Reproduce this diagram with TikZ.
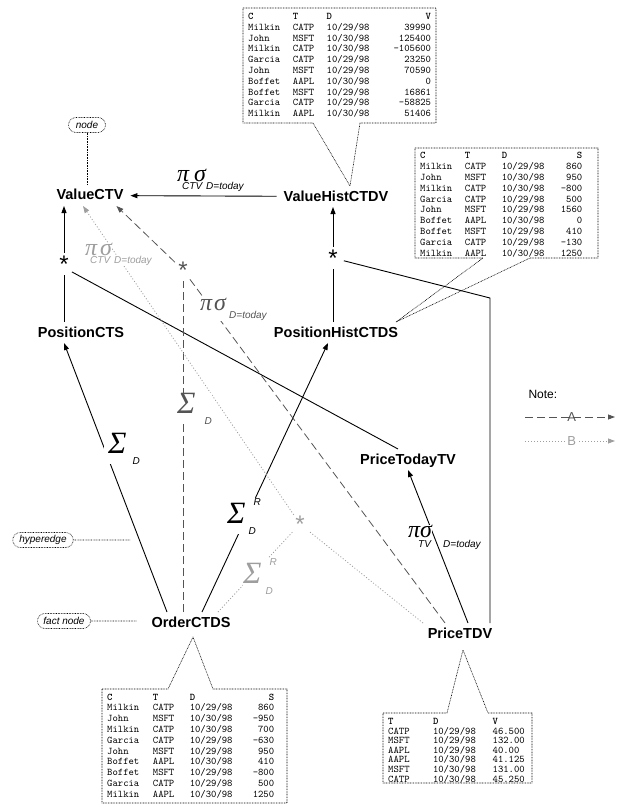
\documentclass[tikz,border=0pt]{standalone}
\usepackage{fontspec}
\setmainfont{Liberation Sans}
\newfontfamily\grkfont{Liberation Serif}
\usetikzlibrary{arrows.meta,shapes.misc}

\definecolor{dashcol}{gray}{0.33}
\definecolor{dotcol}{gray}{0.62}

\newcommand{\symfont}{\grkfont\itshape\fontsize{24}{24}\selectfont}
\newcommand{\sumfont}{\grkfont\itshape\fontsize{31}{31}\selectfont}
\newcommand{\subfont}{\itshape\fontsize{10}{10}\selectfont}
\newcommand{\psdrop}{8pt}
\setlength{\fboxsep}{1pt}

% projection / selection label: [gap] sub under pi, its kern, sub under sigma, its kern
\newcommand{\projsel}[5][2pt]{%
  \makebox[0pt][l]{\kern#3\raisebox{-\psdrop}{\subfont #2}}%
  \makebox[0pt][l]{\kern#5\raisebox{-\psdrop}{\colorbox{white}{\subfont #4}}}%
  {\symfont π\kern#1 σ}}
% aggregation label: sup, sub, kern of sub
\newcommand{\aggr}[3]{%
  {\sumfont Σ}\makebox[0pt][l]{\kern8pt\raisebox{18pt}{\subfont #1}}\kern#3\raisebox{-11pt}{\subfont #2}}
\newcommand{\hubstar}{\raisebox{-5.5pt}{*}}

\tikzset{
  fact/.style={font=\bfseries\fontsize{14.5}{16}\selectfont,inner sep=0pt,outer sep=2pt,text height=13pt,text depth=4pt,anchor=base},
  hub/.style={circle,inner sep=0pt,minimum size=22pt,font=\fontsize{24}{24}\selectfont},
  conn/.style={line width=0.9pt},
  dashA/.style={line width=0.8pt,draw=dashcol,dash pattern=on 8pt off 4pt},
  dotB/.style={line width=0.8pt,draw=dotcol,dash pattern=on 1pt off 2pt},
  lbl/.style={inner sep=0pt,anchor=base west},
  note/.style={rounded rectangle,draw,line width=0.6pt,dash pattern=on 0.7pt off 0.9pt,font=\itshape\fontsize{10}{12}\selectfont,inner xsep=5pt,inner ysep=2pt,minimum height=15pt},
  annot/.style={line width=0.6pt,dash pattern=on 0.7pt off 0.9pt},
  callout/.style={line width=0.6pt,dash pattern=on 0.8pt off 0.8pt},
  tbl/.style={inner sep=0pt,anchor=base west,font=\ttfamily\fontsize{10.2}{10.8}\selectfont}
}

\begin{document}
\begin{tikzpicture}[x=1pt,y=-1pt,>={Triangle[length=7pt,width=5pt]},line join=round]
\useasboundingbox (0,0) rectangle (616,805);

% fact nodes
\node[fact] (vctv) at (90,200) {ValueCTV};
\node[fact] (vh) at (336,201) {ValueHistCTDV};
\node[fact] (pcts) at (81,337) {PositionCTS};
\node[fact] (phc) at (336,337) {PositionHistCTDS};
\node[fact] (ptv) at (408,464) {PriceTodayTV};
\node[fact] (oc) at (191,627) {OrderCTDS};
\node[fact] (pt) at (460,638) {PriceTDV};

% hyperedge hubs
\node[hub] (s1) at (64,264) {\hubstar};
\node[hub,text=dashcol] (s2) at (183,270) {\hubstar};
\node[hub] (s3) at (333,258) {\hubstar};
\node[hub,text=dotcol] (s4) at (300,524) {\hubstar};
\coordinate (bend) at (490,298);

% solid hyperedges
\draw[conn,->,shorten >=5pt,shorten <=5pt] (vh) -- (vctv);
\draw[conn,->] (s1) -- (s1 |- vctv.south);
\draw[conn] (s1) -- (s1 |- pcts.north);
\draw[conn] (s1.south east) -- ([xshift=-10pt]ptv.north);
\draw[conn,->] ([xshift=-24pt]oc.north) -- ([xshift=-17pt]pcts.south);
\draw[conn,->] ([xshift=11pt]oc.north) -- ([xshift=-8pt]phc.south);
\draw[conn] (phc.north -| s3) -- (s3);
\draw[conn,->] (s3) -- (s3 |- vh.south);
\draw[conn] (bend |- pt.north) -- (bend) -- (s3);
\draw[conn,->] ([xshift=8pt]pt.north) -- (ptv.south);

% dashed hyperedge A
\draw[dashA] (s2 |- oc.north) -- (s2);
\draw[dashA,->] (s2) -- ([xshift=-9pt]vctv.south east);
\draw[dashA] ([xshift=-15pt]pt.north) -- (s2);

% dotted hyperedge B
\draw[dotB,->] (s4) -- ([xshift=-7pt]vctv.south);
\draw[dotB] ([xshift=27pt]oc.north) -- (s4);
\draw[dotB] ([xshift=-37pt]pt.north) -- (s4);

% edge labels
\node[lbl] (ps1) at (177,182) {\projsel[5pt]{CTV}{5pt}{D=today}{28pt}};
\node[lbl,text=dashcol,fill=white] (ps2) at (200,310) {\projsel{}{0pt}{D=today}{28pt}};
\node[lbl,text=dotcol,fill=white] (ps3) at (85,255) {\projsel[3pt]{CTV}{5pt}{D=today}{28pt}};
\node[lbl,fill=white] (ps4) at (408,537) {\renewcommand{\psdrop}{10pt}\projsel[0pt]{TV}{10pt}{D=today}{34pt}};
\node[lbl,fill=white,inner xsep=4pt] (ag1) at (104,453) {\aggr{}{D}{6pt}};
\node[lbl,text=dashcol,fill=white] (ag2) at (177,413) {\aggr{}{D}{9pt}};
\node[lbl,fill=white] (ag3) at (227,523) {\aggr{R}{D}{3pt}};
\node[lbl,text=dotcol,fill=white] (ag4) at (243,583) {\aggr{R}{D}{4pt}};

% annotations
\node[note,minimum width=47pt] (nodelbl) at (87,125) {node};
\draw[annot] (nodelbl) -- (nodelbl |- vctv.north);
\node[note] (edgelbl) at (43,540) {hyperedge};
\coordinate (edgept) at (130,540);
\draw[annot] (edgelbl) -- (edgept);
\node[note] (factlbl) at (64,621) {fact node};
\draw[annot,shorten >=13pt] (factlbl) -- (oc.west |- factlbl);

% legend
\node[anchor=base west,font=\fontsize{12}{14}\selectfont] (notelbl) at (525,398) {Note:};
\coordinate (a0) at (525,417);
\coordinate (a1) at (615,417);
\coordinate (b0) at (525,441);
\coordinate (b1) at (615,441);
\draw[dashA,->] (a0) -- (a1) node[pos=0.52,text=dashcol,font=\fontsize{13}{14}\selectfont,inner sep=0pt] (legA) {A};
\draw[dotB,->] (b0) -- (b1) node[pos=0.52,text=dotcol,fill=white,font=\fontsize{13}{14}\selectfont,inner sep=1pt] (legB) {B};

% data tables
\draw[callout] (243,8) -- (436,8) -- (436,123) -- (360,123) -- ([xshift=14pt]vh.north) -- (313,123) -- (243,123) -- cycle;
\node[tbl] (tabV) at (248,19.5) {\begin{tabular}[t]{@{}l@{\hspace{12.6pt}}l@{\hspace{12.4pt}}l@{\hspace{24pt}}r@{}}
\textbf{C}&\textbf{T}&\textbf{D}&\textbf{V}\\
Milkin&CATP&10/29/98&39990\\
John&MSFT&10/30/98&125400\\
Milkin&CATP&10/30/98&-105600\\
Garcia&CATP&10/29/98&23250\\
John&MSFT&10/29/98&70590\\
Boffet&AAPL&10/30/98&0\\
Boffet&MSFT&10/29/98&16861\\
Garcia&CATP&10/29/98&-58825\\
Milkin&AAPL&10/30/98&51406
\end{tabular}};

\draw[callout] (415,148) -- (598,148) -- (598,258) -- (530,258) -- ([xshift=-4pt]phc.north east) -- (483,258) -- (415,258) -- cycle;
\node[tbl] (tabS) at (420,159) {\begin{tabular}[t]{@{}l@{\hspace{12.6pt}}l@{\hspace{15.4pt}}l@{\hspace{16.2pt}}r@{}}
\textbf{C}&\textbf{T}&\textbf{D}&\textbf{S}\\
Milkin&CATP&10/29/98&860\\
John&MSFT&10/30/98&950\\
Milkin&CATP&10/30/98&-800\\
Garcia&CATP&10/29/98&500\\
John&MSFT&10/29/98&1560\\
Boffet&AAPL&10/30/98&0\\
Boffet&MSFT&10/29/98&410\\
Garcia&CATP&10/29/98&-130\\
Milkin&AAPL&10/30/98&1250
\end{tabular}};

\draw[callout] (102,689) -- (168,689) -- ([xshift=2pt,yshift=-4pt]oc.south) -- (213,689) -- (287,689) -- (287,803) -- (102,803) -- cycle;
\node[tbl] (tabO) at (107,700) {\begin{tabular}[t]{@{}l@{\hspace{13.6pt}}l@{\hspace{15.4pt}}l@{\hspace{20.2pt}}r@{}}
\textbf{C}&\textbf{T}&\textbf{D}&\textbf{S}\\
Milkin&CATP&10/29/98&860\\
John&MSFT&10/30/98&-950\\
Milkin&CATP&10/30/98&700\\
Garcia&CATP&10/29/98&-630\\
John&MSFT&10/29/98&950\\
Boffet&AAPL&10/30/98&410\\
Boffet&MSFT&10/29/98&-800\\
Garcia&CATP&10/29/98&500\\
Milkin&AAPL&10/30/98&1250
\end{tabular}};

\draw[callout] (383,713) -- (447,713) -- ([xshift=3pt,yshift=-6pt]pt.south) -- (488,713) -- (532,713) -- (532,783) -- (383,783) -- cycle;
\node[tbl,font=\ttfamily\fontsize{10.2}{8.4}\selectfont] (tabP) at (388,724.5) {\begin{tabular}[t]{@{}l@{\hspace{23.4pt}}l@{\hspace{16.8pt}}l@{}}
\textbf{T}&\textbf{D}&\textbf{V}\\
CATP&10/29/98&46.500\\
MSFT&10/29/98&132.00\\
AAPL&10/29/98&40.00\\
AAPL&10/30/98&41.125\\
MSFT&10/30/98&131.00\\
CATP&10/30/98&45.250
\end{tabular}};
\end{tikzpicture}
\end{document}
